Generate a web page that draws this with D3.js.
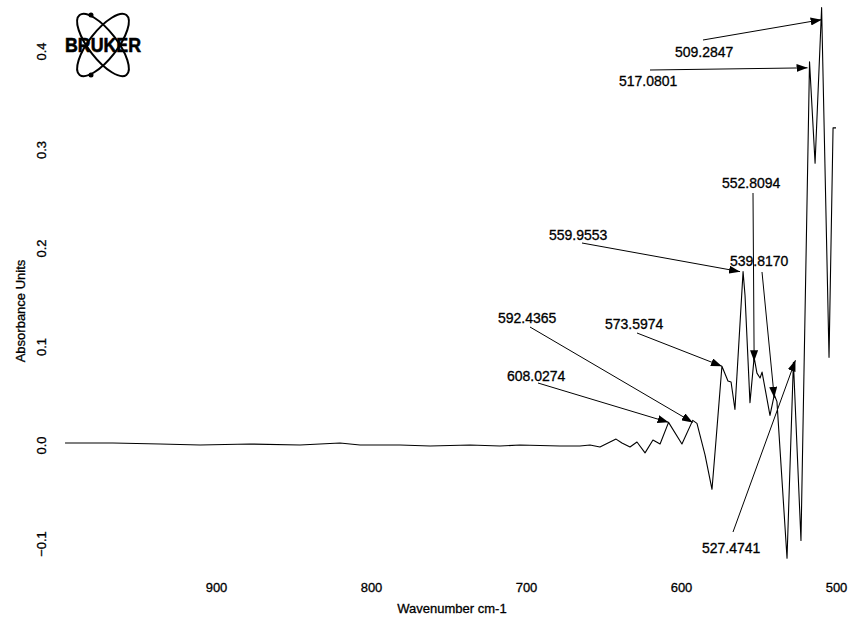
<!DOCTYPE html>
<html>
<head>
<meta charset="utf-8">
<script src="https://cdn.jsdelivr.net/npm/d3@7"></script>
<style>
  body { margin: 0; background: #fff; }
  svg text { font-family: "Liberation Sans", Arial, sans-serif; fill: #000; stroke: #000; stroke-width: 0.3px; }
</style>
</head>
<body>
<div id="chart"></div>
<script>
// IR spectrum
var wavenumbers = [997.4, 966.5, 936.1, 910.3, 878.1, 845.8, 820.0, 807.1, 781.3, 761.9,
  736.1, 716.8, 703.9, 678.1, 665.2, 658.7, 652.3, 647.1, 641.9, 638.1,
  632.9, 628.4, 623.2, 618.1, 613.5, 608.0274, 599.4, 592.4365, 589.7, 584.5,
  580.0, 577.4, 573.5974, 569.7, 567.7, 565.2, 559.9553, 558.7, 555.5, 552.8094,
  551.0, 549.0, 547.7, 542.6, 539.8170, 538.1, 531.6, 527.4741, 522.6, 517.0801,
  513.5, 509.2847, 504.5, 501.9, 500.0];
var absorbance = [0.002, 0.002, 0.001, 0.000, 0.001, 0.000, 0.002, 0.000, 0.000, -0.001,
  0.000, -0.001, 0.000, -0.001, -0.001, 0.000, -0.002, 0.002, 0.006, 0.002,
  -0.002, 0.003, -0.008, 0.005, 0.001, 0.023, 0.001, 0.025, 0.022, -0.010,
  -0.045, 0.005, 0.080, 0.065, 0.064, 0.036, 0.176, 0.152, 0.043, 0.089,
  0.073, 0.068, 0.074, 0.030, 0.051, 0.044, -0.115, 0.084, -0.097, 0.389,
  0.286, 0.444, 0.089, 0.322, 0.322];

// tick labels
var xTicks = [900, 800, 700, 600, 500];
var yTicks = [-0.1, 0.0, 0.1, 0.2, 0.3, 0.4];

// peak picks
var peakLabels = ["509.2847", "517.0801", "552.8094", "559.9553", "539.8170",
  "573.5974", "592.4365", "608.0274", "527.4741"];

// where each pick label sits: text x, baseline y, arrow tail x/y, tip nudge
var peakLayout = [
  [675, 57, 703, 40, 0, 12],
  [619, 86, 650, 70, -2, 6],
  [722, 188, 753, 193, 0, 4],
  [549, 240, 582, 243, -3, 0],
  [730, 266, 762, 272, 0, 3],
  [605, 329, 637, 333, 0, 0],
  [498, 323, 530, 327, 0, 2],
  [507, 381, 538, 383, 0, 0],
  [702, 553, 733, 532, 2, -2]
];

var width = 862;
var height = 626;

var x = d3.scaleLinear().domain([1000, 500]).range([61, 836]);
var y = d3.scaleLinear().domain([-0.1, 0.4]).range([543.5, 51]);

var svg = d3.select("#chart").append("svg")
  .attr("width", width)
  .attr("height", height);

svg.append("defs").append("marker")
  .attr("id", "head")
  .attr("markerUnits", "userSpaceOnUse")
  .attr("markerWidth", 11)
  .attr("markerHeight", 8)
  .attr("refX", 11)
  .attr("refY", 4)
  .attr("orient", "auto")
  .append("path")
  .attr("d", "M0,0 L11,4 L0,8 Z")
  .attr("fill", "#000");

// bruker logo (atom + word)
var logo = svg.append("g").attr("transform", "translate(103,45)");
logo.selectAll("ellipse").data([-38, 38]).enter().append("ellipse")
  .attr("rx", 14).attr("ry", 38)
  .attr("transform", function(d) { return "rotate(" + d + ")"; })
  .attr("fill", "none").attr("stroke", "#000").attr("stroke-width", 2);
logo.selectAll("circle").data([-30, 30]).enter().append("circle")
  .attr("cx", -12).attr("cy", function(d) { return d; })
  .attr("r", 2.5).attr("fill", "#000");
logo.append("text")
  .attr("x", -38).attr("y", 7)
  .attr("textLength", 76).attr("lengthAdjust", "spacingAndGlyphs")
  .style("font-size", "20px").style("font-weight", "bold")
  .style("stroke-width", "0.6px")
  .text("BRUKER");

// axes: labels only, no lines
var xAxis = svg.append("g")
  .attr("transform", "translate(0,578)")
  .call(d3.axisBottom(x).tickValues(xTicks).tickSize(0).tickPadding(0).tickFormat(d3.format("d")));
xAxis.select(".domain").remove();
xAxis.selectAll("text")
  .attr("dy", "1.05em")
  .style("font-size", "13px");

var yAxis = svg.append("g")
  .attr("transform", "translate(46,0)")
  .call(d3.axisLeft(y).tickValues(yTicks).tickSize(0).tickPadding(0).tickFormat(d3.format(".1f")));
yAxis.select(".domain").remove();
// rotate each label about its tick
yAxis.selectAll(".tick text")
  .attr("x", 0).attr("y", 0).attr("dy", 0)
  .attr("text-anchor", "middle")
  .attr("transform", "rotate(-90)")
  .style("font-size", "13px");

svg.append("text")
  .attr("x", 452).attr("y", 613)
  .attr("text-anchor", "middle")
  .style("font-size", "13px")
  .text("Wavenumber cm-1");

svg.append("text")
  .attr("transform", "translate(25,311) rotate(-90)")
  .attr("text-anchor", "middle")
  .style("font-size", "13px")
  .text("Absorbance Units");

// spectrum
var points = wavenumbers.map(function(w, i) { return [w, absorbance[i]]; });
var line = d3.line()
  .x(function(d) { return x(d[0]); })
  .y(function(d) { return y(d[1]); });

svg.append("path")
  .datum(points)
  .attr("d", line)
  .attr("fill", "none")
  .attr("stroke", "#000")
  .attr("stroke-width", 1.1)
  .attr("stroke-linejoin", "round");

// peak picks with arrows
peakLabels.forEach(function(lab, i) {
  var wn = +lab;
  var k = wavenumbers.indexOf(wn);
  var p = peakLayout[i];
  var tx = x(wn) + p[4];
  var ty = y(absorbance[k]) + p[5];
  svg.append("line")
    .attr("x1", p[2]).attr("y1", p[3])
    .attr("x2", tx).attr("y2", ty)
    .attr("stroke", "#000").attr("stroke-width", 1)
    .attr("marker-end", "url(#head)");
  svg.append("text")
    .attr("x", p[0]).attr("y", p[1])
    .style("font-size", "14px")
    .text(lab);
});
</script>
</body>
</html>
